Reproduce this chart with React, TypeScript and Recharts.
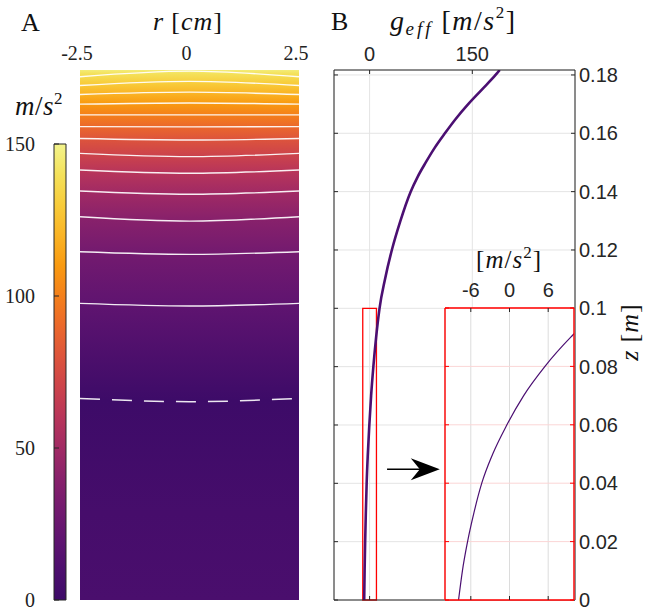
import React from 'react';
import {
  ComposedChart,
  Line,
  XAxis,
  YAxis,
  CartesianGrid,
  ReferenceArea,
  ReferenceLine,
} from 'recharts';

// panel B: g_eff along the axis (r = 0)
const zValues = [
  0, 0.01, 0.02, 0.03, 0.04, 0.05, 0.06, 0.07, 0.08, 0.09, 0.1, 0.11, 0.12, 0.13, 0.14,
  0.145, 0.15, 0.155, 0.16, 0.165, 0.17, 0.175, 0.18, 0.1817,
];
const gValues = [
  -7.9, -7.3, -6.5, -5.5, -4.3, -2.6, -0.4, 2.2, 5.5, 9.5, 14.5, 22.5, 32.5, 45, 60,
  70, 82, 95, 110, 126, 144, 164, 184, 190,
];

const zTop = 0.1817;
const zTicks = [0, 0.02, 0.04, 0.06, 0.08, 0.1, 0.12, 0.14, 0.16, 0.18];
const gTicks = [0, 150];
const insetGTicks = [-6, 0, 6];
const insetZTicks = [0, 0.02, 0.04, 0.06, 0.08, 0.1];

// zoom box and arrow
const boxG = [-10, 10];
const boxZ = [0, 0.1];
const arrowG = [25.5, 102.5];
const arrowZ = 0.0448;

// panel A: contour levels (m/s^2), heights at the wall and on the axis
const rTicks = [-2.5, 0, 2.5];
const contourLevels = [140, 130, 120, 110, 100, 90, 80, 70, 60, 50, 40, 30, 20];
const contourEdgeZ = [0.1794, 0.1764, 0.1733, 0.17, 0.1663, 0.1623, 0.1582, 0.1531, 0.1474, 0.1402, 0.1314, 0.1194, 0.1017];
const contourCenterZ = [0.1813, 0.1778, 0.1741, 0.1704, 0.1663, 0.1622, 0.1577, 0.152, 0.1463, 0.1391, 0.1299, 0.1185, 0.1008];
const zeroEdgeZ = 0.0691;
const zeroCenterZ = 0.068;

// field magnitude down the column (for the colour map)
const heatZ = [0, 0.03, 0.0686, 0.1013, 0.119, 0.1307, 0.1397, 0.1469, 0.1526, 0.158, 0.1623, 0.1663, 0.1702, 0.1737, 0.1771, 0.1804, 0.1817];
const heatG = [8, 5.5, 0, 20, 30, 40, 50, 60, 70, 80, 90, 100, 110, 120, 130, 140, 146];

// colour bar
const cbarTicks = [0, 50, 100, 150];
const cbarSpan = [{ x: 0 }, { x: 1 }];
const cmapValues = [0, 10, 20, 30, 40, 50, 60, 70, 80, 90, 100, 110, 120, 130, 140, 150];
const cmapColors = [
  '#3d0b68', '#4d0f6e', '#5f1470', '#731a6f', '#88216b', '#a12a64', '#b8355a', '#cc434b',
  '#dd543c', '#eb682b', '#f4801b', '#f99a10', '#fab425', '#f8cc3a', '#f4e15a', '#f3f48c',
];

function hexToRgb(h: string) {
  return [parseInt(h.slice(1, 3), 16), parseInt(h.slice(3, 5), 16), parseInt(h.slice(5, 7), 16)];
}

function cmap(v: number) {
  const t = Math.max(cmapValues[0], Math.min(cmapValues[cmapValues.length - 1], v));
  let i = 0;
  while (i < cmapValues.length - 2 && t > cmapValues[i + 1]) i++;
  const f = (t - cmapValues[i]) / (cmapValues[i + 1] - cmapValues[i]);
  const a = hexToRgb(cmapColors[i]);
  const b = hexToRgb(cmapColors[i + 1]);
  const c = a.map((x, k) => Math.round(x + (b[k] - x) * f));
  return `rgb(${c[0]},${c[1]},${c[2]})`;
}

const curve = zValues.map((z, i) => ({ z, g: gValues[i] }));
const contours = contourLevels.map((lvl, i) => ({
  lvl,
  data: [
    { r: rTicks[0], z: contourEdgeZ[i] },
    { r: rTicks[1], z: contourCenterZ[i] },
    { r: rTicks[2], z: contourEdgeZ[i] },
  ],
}));
const zeroContour = [
  { r: rTicks[0], z: zeroEdgeZ },
  { r: rTicks[1], z: zeroCenterZ },
  { r: rTicks[2], z: zeroEdgeZ },
];

const SANS = 'Liberation Sans, Arial, sans-serif';
const SERIF = 'Liberation Serif, Times New Roman, serif';
const INK = '#262626';
const PURPLE = '#4b0f72';
const fmtZ = (v: number) => String(Math.round(v * 100) / 100);
const blank = () => '';

function Arrow(props: any) {
  const { x1, y1, x2, y2 } = props;
  return (
    <g>
      <line x1={x1} y1={y1} x2={x2 - 16} y2={y2} stroke="#000" strokeWidth={1.6} />
      <path d={`M${x2},${y2} L${x2 - 29},${y2 - 11} L${x2 - 20},${y2} L${x2 - 29},${y2 + 11} Z`} fill="#000" />
    </g>
  );
}

function HeatPanel() {
  return (
    <ComposedChart width={320} height={608} margin={{ top: 40, right: 21, bottom: 8, left: 80 }}>
      <defs>
        <linearGradient id="heat" x1="0" y1="1" x2="0" y2="0">
          {heatZ.map((z, i) => (
            <stop key={i} offset={z / zTop} stopColor={cmap(heatG[i])} />
          ))}
        </linearGradient>
      </defs>
      <XAxis
        type="number"
        dataKey="r"
        orientation="top"
        height={30}
        domain={[-2.5, 2.5]}
        ticks={rTicks}
        interval={0}
        allowDataOverflow
        axisLine={false}
        tickLine={false}
        tickSize={0}
        tickMargin={10}
        tick={{ fill: '#222', fontSize: 20, fontFamily: SERIF, dx: -3 }}
      />
      <YAxis type="number" hide domain={[0, zTop]} allowDataOverflow />
      <ReferenceArea x1={-2.5} x2={2.5} y1={0} y2={zTop} fill="url(#heat)" fillOpacity={1} stroke="none" />
      {contours.map((c) => (
        <Line
          key={c.lvl}
          data={c.data}
          dataKey="z"
          type="natural"
          stroke="#ffffff"
          strokeOpacity={0.92}
          strokeWidth={1.4}
          dot={false}
          activeDot={false}
          isAnimationActive={false}
        />
      ))}
      <Line
        data={zeroContour}
        dataKey="z"
        type="natural"
        stroke="#ffffff"
        strokeOpacity={0.9}
        strokeWidth={1.5}
        strokeDasharray="20 12"
        dot={false}
        activeDot={false}
        isAnimationActive={false}
      />
    </ComposedChart>
  );
}

function ColorBar() {
  return (
    <ComposedChart width={80} height={608} data={cbarSpan} margin={{ top: 144, right: 14, bottom: 8, left: 53 }}>
      <defs>
        <linearGradient id="cbar" x1="0" y1="1" x2="0" y2="0">
          {cmapValues.map((v, i) => (
            <stop key={i} offset={v / 150} stopColor={cmapColors[i]} />
          ))}
        </linearGradient>
      </defs>
      <XAxis type="number" dataKey="x" hide domain={[0, 1]} allowDataOverflow />
      <YAxis
        type="number"
        domain={[0, 150]}
        ticks={cbarTicks}
        interval={0}
        allowDataOverflow
        width={1}
        axisLine={false}
        stroke={INK}
        tickSize={-5}
        tickMargin={24}
        tick={{ fill: '#222', fontSize: 20, fontFamily: SERIF }}
      />
      <ReferenceArea x1={0} x2={1} y1={0} y2={150} fill="url(#cbar)" fillOpacity={1} stroke={INK} strokeWidth={1} />
    </ComposedChart>
  );
}

function ProfilePanel() {
  const sansTick = { fill: INK, fontSize: 20, fontFamily: SANS };
  return (
    <ComposedChart width={325} height={608} data={curve} margin={{ top: 40, right: 10, bottom: 7, left: 13 }}>
      <XAxis
        xAxisId="top"
        type="number"
        dataKey="g"
        orientation="top"
        height={30}
        domain={[-52, 300]}
        ticks={gTicks}
        interval={0}
        allowDataOverflow
        stroke={INK}
        tickSize={-4}
        tickMargin={13}
        tick={sansTick}
      />
      <XAxis
        xAxisId="bottom"
        type="number"
        dataKey="g"
        orientation="bottom"
        height={1}
        domain={[-52, 300]}
        ticks={gTicks}
        interval={0}
        allowDataOverflow
        stroke={INK}
        tickSize={-4}
        tickFormatter={blank}
      />
      <YAxis
        yAxisId="right"
        type="number"
        orientation="right"
        width={60}
        domain={[0, zTop]}
        ticks={zTicks}
        interval={0}
        allowDataOverflow
        stroke={INK}
        tickSize={-4}
        tickMargin={8}
        tickFormatter={fmtZ}
        tick={sansTick}
      />
      <YAxis
        yAxisId="left"
        type="number"
        orientation="left"
        width={1}
        domain={[0, zTop]}
        ticks={zTicks}
        interval={0}
        allowDataOverflow
        stroke={INK}
        tickSize={-4}
        tickFormatter={blank}
      />
      <CartesianGrid xAxisId="top" yAxisId="right" stroke="#e4e4e4" />
      <ReferenceArea
        xAxisId="top"
        yAxisId="right"
        x1={boxG[0]}
        x2={boxG[1]}
        y1={boxZ[0]}
        y2={boxZ[1]}
        fill="none"
        stroke="#ff0000"
        strokeWidth={1.3}
      />
      <ReferenceLine
        xAxisId="top"
        yAxisId="right"
        segment={[{ x: arrowG[0], y: arrowZ }, { x: arrowG[1], y: arrowZ }]}
        shape={Arrow}
      />
      <Line
        xAxisId="top"
        yAxisId="right"
        dataKey="z"
        type="monotone"
        stroke={PURPLE}
        strokeWidth={2.6}
        dot={false}
        activeDot={false}
        isAnimationActive={false}
      />
    </ComposedChart>
  );
}

function InsetPanel() {
  const sansTick = { fill: INK, fontSize: 20, fontFamily: SANS };
  const red = { stroke: '#ff0000', strokeWidth: 1.4 };
  return (
    <ComposedChart width={245} height={408} data={curve} margin={{ top: 78, right: 70, bottom: 7, left: 44 }}>
      <XAxis
        xAxisId="top"
        type="number"
        dataKey="g"
        orientation="top"
        height={30}
        domain={[-10, 10]}
        ticks={insetGTicks}
        interval={0}
        allowDataOverflow
        stroke={INK}
        axisLine={red}
        tickSize={-4}
        tickMargin={15}
        tick={sansTick}
      />
      <XAxis
        xAxisId="bottom"
        type="number"
        dataKey="g"
        orientation="bottom"
        height={1}
        domain={[-10, 10]}
        ticks={insetGTicks}
        interval={0}
        allowDataOverflow
        stroke={INK}
        axisLine={red}
        tickSize={-4}
        tickFormatter={blank}
      />
      <YAxis
        yAxisId="right"
        type="number"
        orientation="right"
        width={1}
        domain={[0, 0.1]}
        ticks={insetZTicks}
        interval={0}
        allowDataOverflow
        stroke="#ff0000"
        axisLine={red}
        tickSize={-4}
        tickFormatter={blank}
      />
      <YAxis
        yAxisId="left"
        type="number"
        orientation="left"
        width={1}
        domain={[0, 0.1]}
        ticks={insetZTicks}
        interval={0}
        allowDataOverflow
        stroke="#ff0000"
        axisLine={red}
        tickSize={-4}
        tickFormatter={blank}
      />
      <CartesianGrid xAxisId="top" yAxisId="right" horizontal={false} stroke="#dcdcdc" />
      <CartesianGrid xAxisId="top" yAxisId="right" vertical={false} stroke="#fbd6d6" />
      <Line
        xAxisId="top"
        yAxisId="right"
        dataKey="z"
        type="monotone"
        stroke={PURPLE}
        strokeWidth={1.2}
        dot={false}
        activeDot={false}
        isAnimationActive={false}
      />
    </ComposedChart>
  );
}

function Labels() {
  const sup = { fontSize: 17, fontStyle: 'normal' as const };
  return (
    <svg width={645} height={608} style={{ position: 'absolute', left: 0, top: 0, pointerEvents: 'none' }}>
      <g fontFamily={SERIF} fill="#111">
        <text x={21} y={31} fontSize={26}>A</text>
        <text x={331} y={30} fontSize={26}>B</text>
        <text x={188} y={30} fontSize={26} textAnchor="middle" letterSpacing={1}>
          <tspan fontStyle="italic">r</tspan>
          <tspan dx={7}>[</tspan>
          <tspan fontStyle="italic">cm</tspan>
          <tspan>]</tspan>
        </text>
        <text x={15} y={115} fontSize={27} letterSpacing={0.5}>
          <tspan fontStyle="italic">m</tspan>
          <tspan>/</tspan>
          <tspan fontStyle="italic">s</tspan>
          <tspan dy={-11} {...sup}>2</tspan>
        </text>
        <text x={390} y={30} fontSize={28} letterSpacing={1.5}>
          <tspan fontStyle="italic">g</tspan>
          <tspan fontStyle="italic" fontSize={19} dy={5} letterSpacing={3}>eff</tspan>
          <tspan dy={-5} dx={8}>[</tspan>
          <tspan fontStyle="italic">m</tspan>
          <tspan>/</tspan>
          <tspan fontStyle="italic">s</tspan>
          <tspan dy={-12} {...sup}>2</tspan>
          <tspan dy={12}>]</tspan>
        </text>
        <text x={509} y={268} fontSize={25} textAnchor="middle" letterSpacing={1}>
          <tspan>[</tspan>
          <tspan fontStyle="italic">m</tspan>
          <tspan>/</tspan>
          <tspan fontStyle="italic">s</tspan>
          <tspan dy={-10} {...sup}>2</tspan>
          <tspan dy={10}>]</tspan>
        </text>
        <text transform="translate(638,332) rotate(-90)" fontSize={26} textAnchor="middle" letterSpacing={1}>
          <tspan fontStyle="italic">z</tspan>
          <tspan dx={7}>[</tspan>
          <tspan fontStyle="italic">m</tspan>
          <tspan>]</tspan>
        </text>
      </g>
    </svg>
  );
}

export default function App() {
  return (
    <div style={{ position: 'relative', width: 645, height: 608, background: '#fff', fontFamily: SANS }}>
      <style>{'body{margin:0}'}</style>
      <div style={{ position: 'absolute', left: 0, top: 0 }}>
        <HeatPanel />
      </div>
      <div style={{ position: 'absolute', left: 0, top: 0 }}>
        <ColorBar />
      </div>
      <div style={{ position: 'absolute', left: 320, top: 0 }}>
        <ProfilePanel />
      </div>
      <div style={{ position: 'absolute', left: 445, top: 308, width: 129, height: 292, background: '#fff' }} />
      <div style={{ position: 'absolute', left: 400, top: 200 }}>
        <InsetPanel />
      </div>
      <Labels />
    </div>
  );
}
